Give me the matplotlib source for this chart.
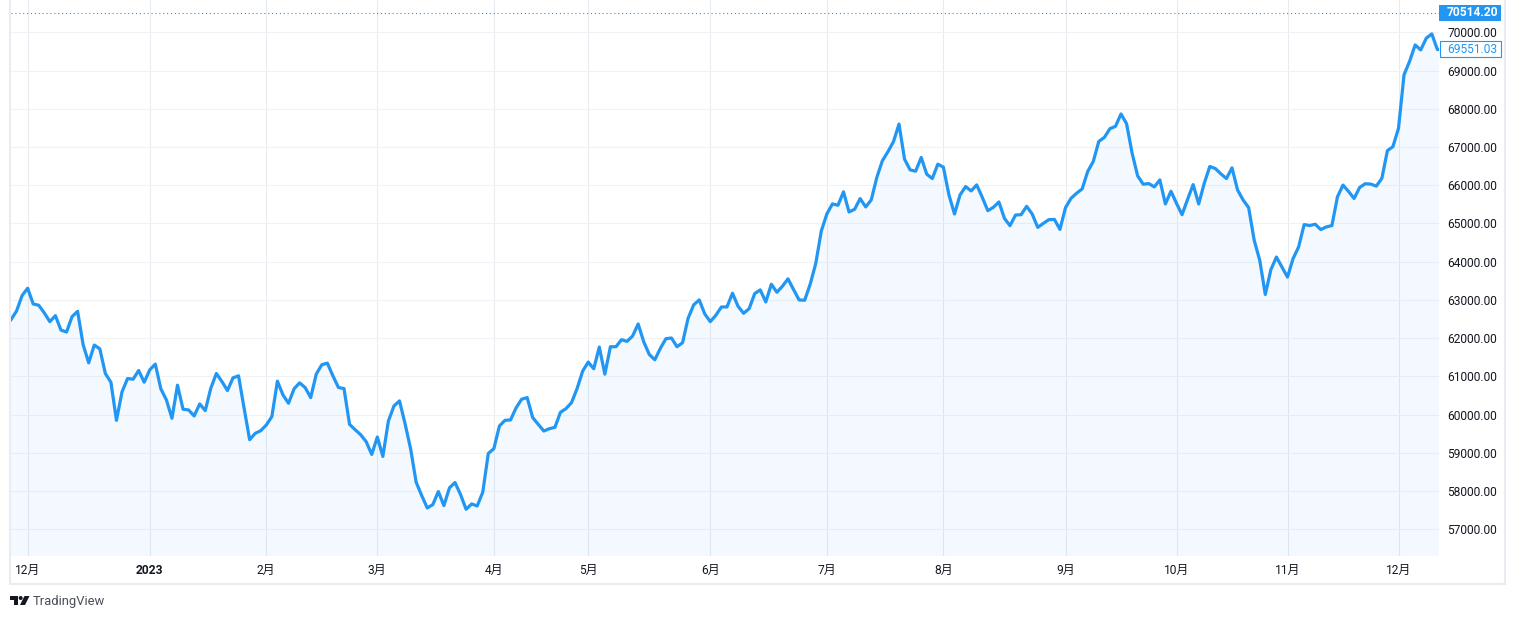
import numpy as np
from matplotlib import pyplot as plt
from matplotlib.patches import Circle, Polygon, Rectangle
from matplotlib.ticker import FixedLocator

#-------------------------------------------------------
# Data
#-------------------------------------------------------

prices_dec_feb = [
    62484, 62711, 63114, 63306, 62895, 62860, 62660, 62431, 62589, 62212,
    62160, 62562, 62702, 61827, 61355, 61819, 61722, 61075, 60847, 59850,
    60594, 60944, 60926, 61154, 60847, 61171, 61321, 60674, 60385, 59904,
    60770, 60140, 60122, 59965, 60280, 60105, 60690, 61076, 60866, 60630,
    60962, 61015, 60166, 59344, 59510, 59580, 59729, 59947, 60875, 60516,
    60297, 60674, 60831, 60709, 60446, 61059, 61304, 61347, 61015, 60709,
]
prices_mar_may = [
    60682, 59746, 59606, 59475, 59291, 58959, 59414, 58906, 59834, 60227,
    60359, 59764, 59108, 58232, 57882, 57559, 57646, 57988, 57620, 58084,
    58224, 57909, 57524, 57664, 57611, 57970, 58985, 59108, 59702, 59851,
    59860, 60175, 60402, 60446, 59921, 59746, 59571, 59632, 59667, 60061,
    60157, 60315, 60682, 61137, 61374, 61199, 61767, 61059, 61776, 61776,
    61960, 61916, 62056, 62371, 61907, 61575, 61435, 61732, 61986, 62004,
    61776, 61881, 62520, 62870, 63001, 62634, 62432, 62599,
]
prices_jun_aug = [
    62816, 62816, 63175, 62834, 62650, 62772, 63166, 63262, 62947, 63411,
    63201, 63359, 63551, 63271, 63000, 62991, 63411, 63954, 64802, 65249,
    65511, 65476, 65826, 65301, 65371, 65651, 65432, 65616, 66202, 66640,
    66876, 67139, 67600, 66682, 66402, 66367, 66726, 66289, 66175, 66551,
    66472, 65746, 65247, 65746, 65965, 65851, 66009, 65685, 65335, 65422,
    65562, 65134, 64941, 65221, 65230, 65449, 65247, 64897, 65002, 65099,
    65107, 64845, 65414, 65659, 65790, 65904,
]
prices_sep_dec = [
    66359, 66621, 67146, 67251, 67479, 67540, 67864, 67610, 66840, 66245,
    66026, 66044, 65956, 66140, 65510, 65843, 65527, 65230, 65632, 66017,
    65510, 66052, 66490, 66437, 66297, 66175, 66455, 65877, 65615, 65414,
    64560, 64035, 63142, 63790, 64122, 63860, 63597, 64079, 64385, 64971,
    64945, 64980, 64840, 64910, 64945, 65697, 66004, 65837, 65654, 65942,
    66039, 66030, 65977, 66179, 66905, 67010, 67491, 68891, 69241, 69670,
    69539, 69845, 69959, 69551,
]

month_labels = ["12月", "2023", "2月", "3月", "4月", "5月", "6月",
                "7月", "8月", "9月", "10月", "11月", "12月"]
month_bars = [3, 25, 46, 66, 87, 104, 126, 147, 168, 190, 210, 230, 250]
price_ticks = list(range(57000, 70001, 1000))
high_price = 70514.20
last_price = 69551.03

#-------------------------------------------------------
# Style
#-------------------------------------------------------

W, H = 1515, 619
BLUE = "#2196f3"
TEXT = "#131722"
FONT = ["Roboto", "Noto Sans CJK SC", "DejaVu Sans"]
plt.rcParams["font.family"] = FONT
TICK_SIZE = 12 * 72 / 100  # 12 px


def make_pane(fig, prices):
    """ Price pane, with the time and price scales hanging off it """
    left, right, top, bottom = 11, 1439, 0, 555.5
    ax = fig.add_axes([left / W, 1 - bottom / H,
                       (right - left) / W, (bottom - top) / H])
    # the last price carries on flat to the edge of the pane, where it clips
    prices = prices + [last_price]
    x = np.arange(len(prices))
    ax.set_xlim(0, (right - left) / 5.55)
    ax.set_ylim(56315, 70845)

    # grid goes first so the translucent area lies on top of it
    ax.yaxis.set_major_locator(FixedLocator(price_ticks))
    ax.xaxis.set_major_locator(FixedLocator(month_bars))
    ax.grid(True, axis="y", color="#f0f3f6", lw=0.75)
    ax.grid(True, axis="x", color="#e8ebf0", lw=0.75)
    ax.set_axisbelow(True)

    ax.fill_between(x, prices, 50000, color=BLUE, alpha=0.05, lw=0)
    ax.plot(x, prices, color=BLUE, lw=2.3, solid_joinstyle="round", zorder=3)
    ax.axhline(high_price, color=BLUE, lw=0.8, ls=(0, (1, 2.5)), zorder=2)

    for s in ax.spines.values():
        s.set_visible(False)

    ax.yaxis.tick_right()
    ax.set_yticklabels([f"{p:.2f}" for p in price_ticks],
                       fontsize=TICK_SIZE, color=TEXT)
    ax.tick_params(axis="y", length=0, pad=5.8)
    ax.set_xticklabels(month_labels, fontsize=TICK_SIZE, color=TEXT)
    ax.tick_params(axis="x", length=0, pad=6.1)
    for lab in ax.get_xticklabels():
        if lab.get_text() == "2023":
            lab.set_fontweight("bold")
    return ax


def price_to_px(ax, price):
    """ Pixel row (from the top) of a price """
    return H - ax.transData.transform((0, price))[1]


def add_chrome(fig, ax):
    """ Frame, price labels and logo, drawn in a pixel-sized overlay """
    over = fig.add_axes([0, 0, 1, 1], zorder=5)
    over.set_xlim(0, W)
    over.set_ylim(H, 0)
    over.axis("off")

    # widget frame
    over.add_patch(Rectangle((10, -5), 1495, 589, fill=False,
                             ec="#e9ecf2", lw=1.5))

    # high label, solid
    y = price_to_px(ax, high_price)
    over.add_patch(Rectangle((1439, y - 8), 62, 16.5, fc=BLUE, ec="none"))
    over.text(1447, y + 0.3, f"{high_price:.2f}", color="white",
              fontsize=TICK_SIZE, fontweight="bold", va="center")

    # last price label, outlined
    y = price_to_px(ax, last_price)
    over.add_patch(Rectangle((1439.5, y - 8), 61, 15.5, fc="white", ec=BLUE,
                             lw=0.8))
    over.text(1447, y - 0.2, f"{last_price:.2f}", color=BLUE,
              fontsize=TICK_SIZE, va="center")

    # TradingView logo
    over.add_patch(Polygon([(10, 596), (18, 596), (18, 605), (14, 605),
                            (14, 600), (10, 600)], fc=TEXT, ec="none"))
    over.add_patch(Circle((20.7, 598), 2, fc=TEXT, ec="none"))
    over.add_patch(Polygon([(24.5, 596), (29.5, 596), (25, 605), (20, 605)],
                           fc=TEXT, ec="none"))
    over.text(33, 601, "TradingView", color="#4a4e59",
              fontsize=13 * 72 / 100, va="center")


if __name__ == "__main__":
    prices = prices_dec_feb + prices_mar_may + prices_jun_aug + prices_sep_dec
    fig = plt.figure(figsize=(W / 100, H / 100), dpi=100, facecolor="white")
    ax = make_pane(fig, prices)
    add_chrome(fig, ax)
    fig.savefig("out.png", dpi=100)
